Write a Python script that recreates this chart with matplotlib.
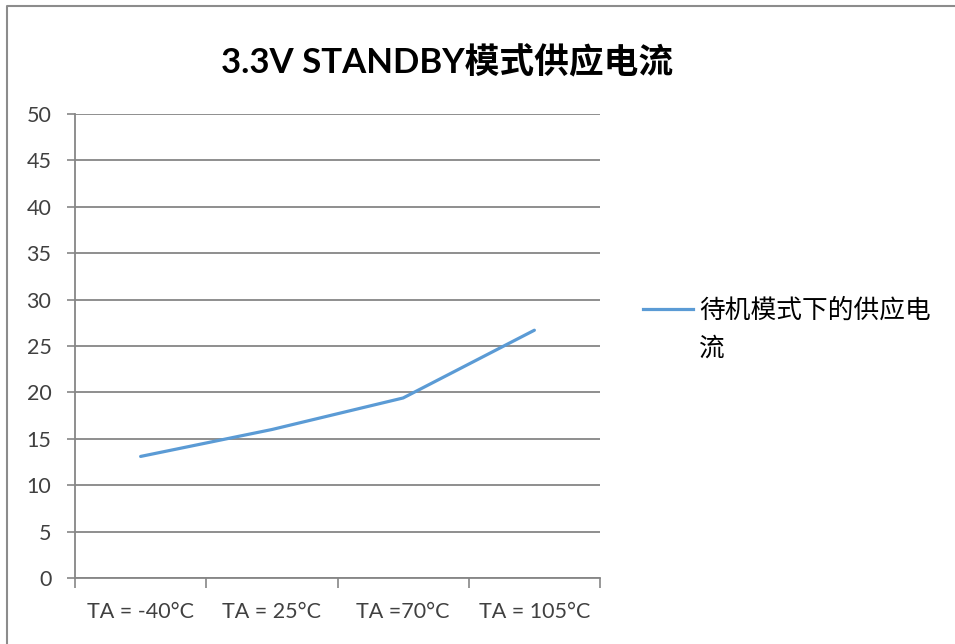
import matplotlib.pyplot as plt
from matplotlib.lines import Line2D

categories = ["TA = -40°C", "TA = 25°C", "TA =70°C", "TA = 105°C"]
current = [13.1, 16.0, 19.4, 26.7]
series_name = "待机模式下的供应电\n流"
title = "3.3V STANDBY模式供应电流"

plt.rcParams['font.family'] = ['Lato', 'Noto Sans CJK SC', 'DejaVu Sans']

W, H = 955, 644
fig = plt.figure(figsize=(W / 100, H / 100), dpi=100)
ax = fig.add_axes([75 / W, 1 - 578 / H, 525 / W, 464 / H])

x = list(range(len(categories)))
line, = ax.plot(x, current, color='#5B9BD5', lw=2.3, solid_capstyle='round')

ax.set_xlim(-0.5, len(categories) - 0.5)
ax.set_ylim(0, 50)
ax.set_yticks(range(0, 51, 5))
ax.set_xticks(x)
ax.set_xticklabels(categories)
ax.set_xticks([i + 0.5 for i in range(-1, len(categories))], minor=True)
ax.tick_params(axis='x', which='major', length=0, pad=17, labelsize=15.5)
ax.tick_params(axis='x', which='minor', length=7, width=1.2, color='#868686')
ax.tick_params(axis='y', length=6, width=1.2, color='#868686', pad=11, labelsize=15.5)
for lab in ax.get_xticklabels() + ax.get_yticklabels():
    lab.set_color('#404040')

ax.grid(axis='y', color='#868686', lw=1.3)
ax.set_axisbelow(True)
for s in ['top', 'right']:
    ax.spines[s].set_visible(False)
for s in ['left', 'bottom']:
    ax.spines[s].set_color('#868686')
    ax.spines[s].set_linewidth(1.3)

fig.text(447 / W, 1 - 63 / H, title, ha='center', va='center', fontsize=25,
         fontweight='bold', color='#000000')

# legend
fig.add_artist(Line2D([643 / W, 693 / W], [1 - 309 / H, 1 - 309 / H],
                      color=line.get_color(), lw=2.3, transform=fig.transFigure))
fig.text(699 / W, 1 - 298 / H, series_name, ha='left', va='top', fontsize=18.5,
         linespacing=1.62, color='#000000')

# chart frame
fig.add_artist(Line2D([7 / W, 7 / W, 1], [0, 1 - 6 / H, 1 - 6 / H], color='#8c8c8c',
                      lw=1.5, transform=fig.transFigure))

fig.savefig('out.png', dpi=100)
